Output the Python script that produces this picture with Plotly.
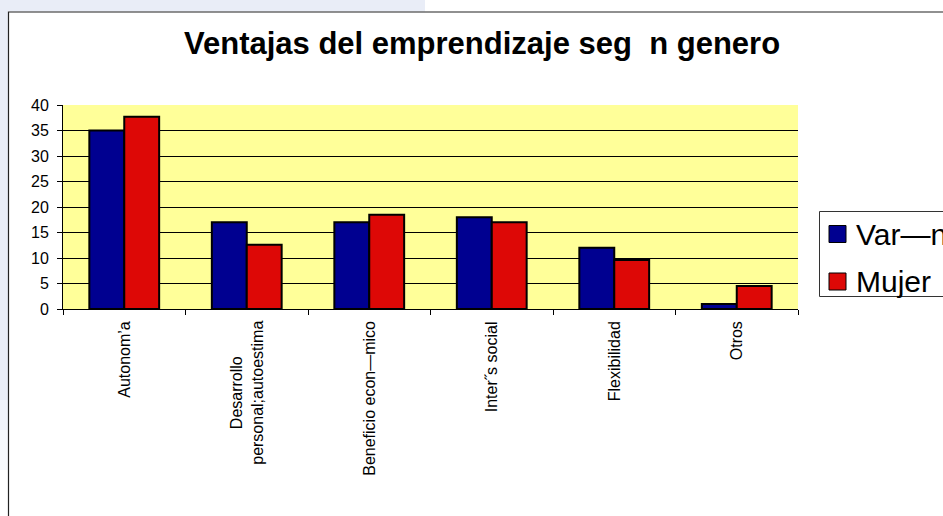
import plotly.graph_objects as go

# Data
categories = ["Autonom’a", "Desarrollo personal;autoestima", "Beneficio econ—mico",
              "Inter˝s social", "Flexibilidad", "Otros"]
category_labels = ["Autonom’a", "Desarrollo<br>personal;autoestima", "Beneficio econ—mico",
                   "Inter˝s social", "Flexibilidad", "Otros"]
varon = [35.0, 17.0, 17.0, 18.0, 12.0, 1.0]
mujer = [37.7, 12.6, 18.5, 17.0, 9.6, 4.5]
series_names = ["Var—n", "Mujer"]
series_colors = ["#000090", "#DD0806"]
y_ticks = [0, 5, 10, 15, 20, 25, 30, 35, 40]
title_text = "Ventajas del emprendizaje seg\u00a0\u00a0n genero"

W, H = 943, 516
L, R, T, B = 63, 145, 105, 207
PW, PH = W - L - R, H - T - B

def px(x):
    return (x - L) / PW

def py(y):
    return (H - B - y) / PH

FONT = "Arial, Liberation Sans, sans-serif"

fig = go.Figure()
for name, vals, col in zip(series_names, [varon, mujer], series_colors):
    fig.add_trace(go.Bar(
        x=categories, y=vals, name=name,
        marker=dict(color=col, line=dict(color="black", width=2)),
        showlegend=False,
    ))

shapes = []
# slide backdrop strips
bg = "#E9EDF7"
shapes.append(dict(type="rect", xref="paper", yref="paper", x0=px(0), x1=px(425),
                   y0=py(0), y1=py(11.5), fillcolor=bg, line=dict(width=0), layer="below"))
for y0, y1, c in [(0, 400, bg), (400, 430, "#EFF2F9"), (430, 470, "#F6F8FC")]:
    shapes.append(dict(type="rect", xref="paper", yref="paper", x0=px(0), x1=px(8),
                       y0=py(y0), y1=py(y1), fillcolor=c, line=dict(width=0), layer="below"))
# chart frame
shapes.append(dict(type="rect", xref="paper", yref="paper", x0=px(8.5), x1=px(1000),
                   y0=py(12), y1=py(700), line=dict(color="#222222", width=1.2)))
# legend frame and swatches
shapes.append(dict(type="rect", xref="paper", yref="paper", x0=px(819.5), x1=px(1000),
                   y0=py(211.5), y1=py(296.5), line=dict(color="#333333", width=1),
                   fillcolor="white"))
sw_centers = [234, 281.5]
for yc, col in zip(sw_centers, series_colors):
    shapes.append(dict(type="rect", xref="paper", yref="paper", x0=px(829), x1=px(846),
                       y0=py(yc - 8.5), y1=py(yc + 8.5), fillcolor=col,
                       line=dict(color="black", width=1)))

annotations = []
annotations.append(dict(text="<b>" + title_text + "</b>", xref="paper", yref="paper",
                        x=px(481.5), y=py(44), xanchor="center", yanchor="middle",
                        showarrow=False, font=dict(family=FONT, size=31, color="black")))
for lab, cat in zip(category_labels, categories):
    annotations.append(dict(text=lab, xref="x", yref="paper", x=cat, y=0, yshift=-10,
                            xanchor="center", yanchor="top", textangle=-90, align="center",
                            showarrow=False, font=dict(family=FONT, size=16, color="black")))
for yc, name in zip(sw_centers, series_names):
    annotations.append(dict(text=name, xref="paper", yref="paper", x=px(854), y=py(yc),
                            xanchor="left", yanchor="middle", showarrow=False,
                            font=dict(family=FONT, size=30, color="black")))

fig.update_layout(
    width=W, height=H,
    margin=dict(l=L, r=R, t=T, b=B, pad=0, autoexpand=False),
    paper_bgcolor="white", plot_bgcolor="#FFFF99",
    barmode="group", bargap=0.43, bargroupgap=0,
    font=dict(family=FONT, size=16, color="black"),
    shapes=shapes, annotations=annotations,
    showlegend=False,
)
fig.update_xaxes(type="category", showticklabels=False, ticks="outside", ticklen=5,
                 tickcolor="black", tickson="boundaries", showline=True, linecolor="black",
                 linewidth=1, showgrid=False, zeroline=False, fixedrange=True)
fig.update_yaxes(range=[0, 40], tickvals=y_ticks, ticks="outside", ticklen=5,
                 tickcolor="black", showline=True, linecolor="black", linewidth=1,
                 showgrid=True, gridcolor="black", gridwidth=1, zeroline=False,
                 ticklabelstandoff=5,
                 tickfont=dict(family=FONT, size=16), fixedrange=True)

fig.write_html("out.html")
